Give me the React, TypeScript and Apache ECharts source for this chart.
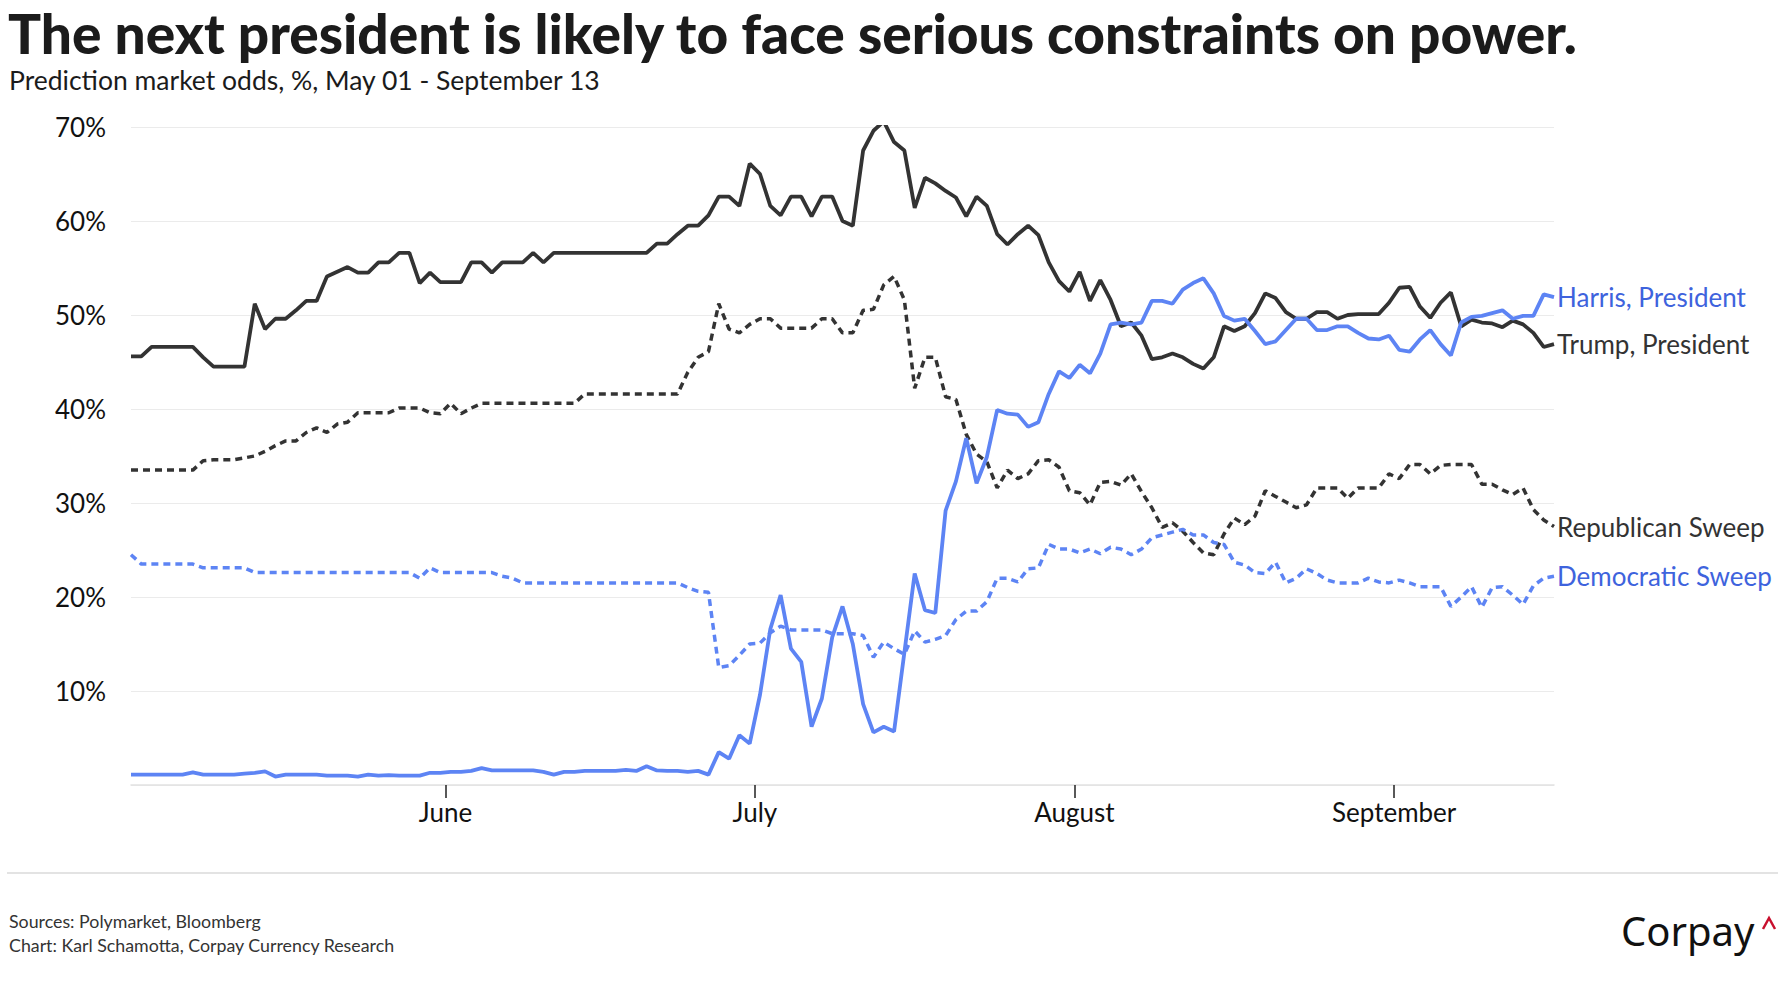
import React, { useEffect, useRef } from "react";
import * as echarts from "echarts";

// ---- DATA (daily, from 2024-05-01) ----
const harris = [
  1.1, 1.1, 1.1, 1.1, 1.1, 1.1, 1.35, 1.1, 1.1, 1.1,
  1.1, 1.2, 1.3, 1.45, 0.9, 1.1, 1.1, 1.1, 1.1, 1.0,
  1.0, 1.0, 0.9, 1.1, 1.0, 1.05, 1.0, 1.0, 1.0, 1.3,
  1.3, 1.4, 1.4, 1.5, 1.8, 1.55, 1.55, 1.55, 1.55, 1.55,
  1.4, 1.1, 1.4, 1.4, 1.5, 1.5, 1.5, 1.5, 1.6, 1.5,
  2.0, 1.55, 1.5, 1.5, 1.4, 1.5, 1.1, 3.5, 2.8, 5.3,
  4.4, 9.6, 16.6, 20.2, 14.5, 13.1, 6.2, 9.2, 15.7, 19.0,
  15.0, 8.6, 5.6, 6.2, 5.7, 14.1, 22.5, 18.6, 18.3, 29.2,
  32.3, 36.9, 32.1, 34.9, 39.9, 39.5, 39.4, 38.1, 38.6, 41.6,
  44.0, 43.3, 44.7, 43.8, 45.9, 49.0, 49.2, 49.0, 49.2, 51.5,
  51.5, 51.2, 52.7, 53.4, 53.9, 52.3, 49.9, 49.4, 49.6, 48.3,
  46.9, 47.2, 48.4, 49.6, 49.6, 48.4, 48.4, 48.8, 48.8, 48.1,
  47.5, 47.4, 47.8, 46.3, 46.1, 47.4, 48.4, 46.9, 45.7, 49.2,
  49.8, 49.9, 50.2, 50.5, 49.6, 49.9, 49.9, 52.2, 51.9,
];

const trump = [
  45.6, 45.6, 46.6, 46.6, 46.6, 46.6, 46.6, 45.5, 44.5, 44.5,
  44.5, 44.5, 51.2, 48.5, 49.6, 49.6, 50.5, 51.5, 51.5, 54.1,
  54.6, 55.1, 54.5, 54.5, 55.6, 55.6, 56.6, 56.6, 53.4, 54.5,
  53.5, 53.5, 53.5, 55.6, 55.6, 54.5, 55.6, 55.6, 55.6, 56.6,
  55.6, 56.6, 56.6, 56.6, 56.6, 56.6, 56.6, 56.6, 56.6, 56.6,
  56.6, 57.6, 57.6, 58.6, 59.5, 59.5, 60.6, 62.6, 62.6, 61.6,
  66.1, 65.0, 61.6, 60.6, 62.6, 62.6, 60.5, 62.6, 62.6, 60.0,
  59.5, 67.5, 69.6, 70.6, 68.4, 67.5, 61.4, 64.6, 64.0, 63.2,
  62.5, 60.5, 62.6, 61.6, 58.6, 57.5, 58.6, 59.5, 58.5, 55.6,
  53.6, 52.5, 54.6, 51.5, 53.7, 51.6, 48.8, 49.2, 47.8, 45.3,
  45.5, 45.9, 45.5, 44.8, 44.3, 45.5, 48.8, 48.3, 48.8, 50.2,
  52.3, 51.8, 50.3, 49.6, 49.6, 50.3, 50.3, 49.6, 50.0, 50.1,
  50.1, 50.1, 51.3, 52.9, 53.0, 50.9, 49.7, 51.3, 52.4, 48.8,
  49.5, 49.2, 49.1, 48.7, 49.4, 49.0, 48.1, 46.6, 46.9,
];

const repSweep = [
  33.5, 33.5, 33.5, 33.5, 33.5, 33.5, 33.5, 34.5, 34.6, 34.6,
  34.6, 34.8, 35.0, 35.5, 36.1, 36.6, 36.6, 37.5, 38.0, 37.5,
  38.4, 38.6, 39.6, 39.6, 39.6, 39.6, 40.1, 40.1, 40.1, 39.6,
  39.5, 40.6, 39.5, 40.1, 40.6, 40.6, 40.6, 40.6, 40.6, 40.6,
  40.6, 40.6, 40.6, 40.6, 41.6, 41.6, 41.6, 41.6, 41.6, 41.6,
  41.6, 41.6, 41.6, 41.6, 43.9, 45.5, 46.1, 51.2, 48.5, 48.1,
  49.0, 49.6, 49.6, 48.6, 48.6, 48.6, 48.6, 49.6, 49.6, 48.1,
  48.1, 50.5, 50.6, 53.2, 54.1, 51.6, 42.2, 45.5, 45.5, 41.3,
  41.0, 37.3, 35.2, 34.4, 31.6, 33.5, 32.6, 33.1, 34.5, 34.6,
  33.8, 31.3, 31.1, 29.8, 32.2, 32.3, 31.9, 33.1, 31.2, 29.5,
  27.4, 27.9, 27.0, 25.8, 24.7, 24.5, 26.7, 28.4, 27.7, 28.6,
  31.3, 30.7, 30.1, 29.5, 29.8, 31.6, 31.6, 31.6, 30.5, 31.6,
  31.6, 31.6, 33.1, 32.6, 34.1, 34.1, 33.1, 34.0, 34.1, 34.1,
  34.1, 32.0, 32.0, 31.4, 30.9, 31.6, 29.3, 28.2, 27.5,
];

const demSweep = [
  24.5, 23.5, 23.5, 23.5, 23.5, 23.5, 23.5, 23.1, 23.1, 23.1,
  23.1, 23.1, 22.6, 22.6, 22.6, 22.6, 22.6, 22.6, 22.6, 22.6,
  22.6, 22.6, 22.6, 22.6, 22.6, 22.6, 22.6, 22.6, 22.0, 23.1,
  22.6, 22.6, 22.6, 22.6, 22.6, 22.6, 22.2, 22.0, 21.5, 21.5,
  21.5, 21.5, 21.5, 21.5, 21.5, 21.5, 21.5, 21.5, 21.5, 21.5,
  21.5, 21.5, 21.5, 21.5, 21.0, 20.6, 20.5, 12.5, 12.7, 13.8,
  15.0, 15.1, 16.2, 16.9, 16.5, 16.5, 16.5, 16.5, 16.1, 16.1,
  16.1, 15.9, 13.6, 15.2, 14.5, 13.9, 16.4, 15.2, 15.5, 15.9,
  17.6, 18.5, 18.5, 19.5, 22.0, 22.0, 21.6, 23.0, 23.1, 25.6,
  25.1, 25.1, 24.7, 25.1, 24.6, 25.3, 25.1, 24.5, 25.1, 26.3,
  26.6, 26.9, 27.2, 26.6, 26.6, 25.8, 25.6, 23.7, 23.4, 22.6,
  22.5, 23.7, 21.5, 22.0, 23.0, 22.5, 21.8, 21.5, 21.5, 21.5,
  22.0, 21.6, 21.5, 21.8, 21.5, 21.1, 21.1, 21.1, 19.0, 20.0,
  21.1, 18.9, 21.0, 21.1, 20.2, 19.2, 21.2, 22.0, 22.2,
];

const seriesNames = ["Harris, President", "Trump, President", "Republican Sweep", "Democratic Sweep"];
const monthNames = ["June", "July", "August", "September"];
// days elapsed since May 01 (midnight) at which each month begins
const monthStartDays = [31, 61, 92, 123];
const yTicks = [0, 10, 20, 30, 40, 50, 60, 70];

const titleText = "The next president is likely to face serious constraints on power.";
const subtitleText = "Prediction market odds, %, May 01 - September 13";
const sourceText = "Sources: Polymarket, Bloomberg";
const creditText = "Chart: Karl Schamotta, Corpay Currency Research";

// each daily observation is plotted at midday of its date (day index + 0.5)
const dayPos = trump.map((_, i) => i + 0.5);
const pair = (vals: number[]) => vals.map((v, i) => [dayPos[i], v]);

const BLUE = "#5d84f4";
const BLUE_TEXT = "#3e63dd";
const DARK = "#333333";
const FONT = "Lato, 'Noto Sans', sans-serif";

export default function App() {
  const ref = useRef<HTMLDivElement>(null);

  useEffect(() => {
    if (!ref.current) return;
    const chart = echarts.init(ref.current, undefined, { renderer: "svg" });

    const mk = (name: string, data: number[], color: string, textColor: string, dashed: boolean, z: number) => ({
      name,
      type: "line",
      data: pair(data),
      showSymbol: false,
      symbol: "none",
      z,
      lineStyle: dashed
        ? { color, width: 3.5, type: [7, 5] }
        : { color, width: 3.8, type: "solid" },
      itemStyle: { color },
      emphasis: { disabled: true },
      endLabel: {
        show: true,
        formatter: () => name,
        color: textColor,
        fontSize: 26,
        fontFamily: FONT,
        distance: 3,
      },
    });

    chart.setOption({
      animation: false,
      backgroundColor: "#ffffff",
      grid: { left: 131, right: 230, top: 127, bottom: 215, containLabel: false },
      xAxis: {
        type: "value",
        min: dayPos[0],
        max: dayPos[dayPos.length - 1],
        axisLine: { show: true, onZero: false, lineStyle: { color: "#e2e2e2", width: 1.5 } },
        axisTick: {
          show: true,
          customValues: monthStartDays,
          length: 13,
          lineStyle: { color: "#222", width: 1.5 },
        },
        axisLabel: {
          customValues: monthStartDays,
          formatter: (v: number) => {
            const k = monthStartDays.indexOf(Math.round(v));
            return k >= 0 ? monthNames[k] : "";
          },
          fontSize: 26,
          fontFamily: FONT,
          color: "#111",
          margin: 14,
        },
        splitLine: { show: false },
      },
      yAxis: {
        type: "value",
        min: yTicks[0],
        max: yTicks[yTicks.length - 1],
        interval: 10,
        axisLine: { show: false },
        axisTick: { show: false },
        axisLabel: {
          formatter: (v: number) => (v === 0 ? "" : v + "%"),
          fontSize: 26,
          fontFamily: FONT,
          color: "#111",
          margin: 25,
        },
        splitLine: { lineStyle: { color: "#ebebeb", width: 1 } },
      },
      series: [
        mk(seriesNames[2], repSweep, DARK, DARK, true, 2),
        mk(seriesNames[3], demSweep, BLUE, BLUE_TEXT, true, 3),
        mk(seriesNames[1], trump, DARK, DARK, false, 4),
        mk(seriesNames[0], harris, BLUE, BLUE_TEXT, false, 5),
      ],
      graphic: [
        {
          type: "text", left: 8, top: 5,
          style: { text: titleText, fill: "#1b1b1b", fontSize: 55, lineHeight: 56, fontWeight: 900, fontFamily: FONT },
        },
        {
          type: "text", left: 9, top: 66,
          style: { text: subtitleText, fill: "#1b1b1b", fontSize: 26.5, lineHeight: 28, fontWeight: 400, fontFamily: FONT },
        },
        {
          type: "line", shape: { x1: 7, y1: 873, x2: 1778, y2: 873 },
          style: { stroke: "#e3e3e3", lineWidth: 2 },
        },
        {
          type: "text", left: 9, top: 911,
          style: { text: sourceText, fill: "#333", fontSize: 17.8, lineHeight: 20, fontFamily: FONT },
        },
        {
          type: "text", left: 9, top: 935,
          style: { text: creditText, fill: "#333", fontSize: 17.8, lineHeight: 20, fontFamily: FONT },
        },
        {
          type: "text", left: 1621, top: 910,
          style: { text: "Corpay", fill: "#111", fontSize: 40, fontFamily: "'Noto Sans', sans-serif" },
        },
        {
          type: "polyline",
          shape: { points: [[1763, 929], [1769, 918], [1775, 929]] },
          style: { stroke: "#c8102e", lineWidth: 2.5, fill: "none" },
        },
      ],
    });

    return () => chart.dispose();
  }, []);

  return (
    <div
      ref={ref}
      style={{ position: "absolute", left: 0, top: 0, width: 1784, height: 1000, background: "#fff" }}
    />
  );
}
